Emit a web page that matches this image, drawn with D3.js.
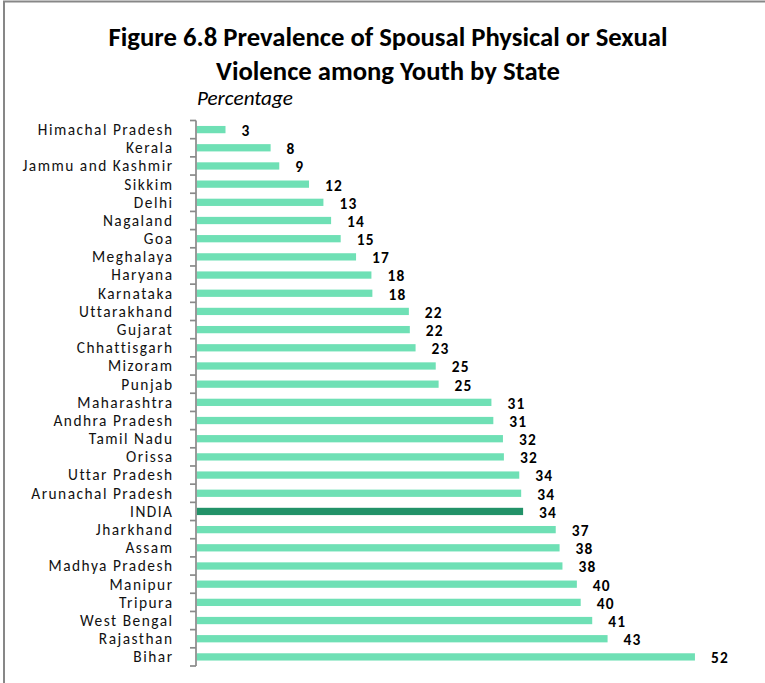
<!DOCTYPE html>
<html>
<head>
<meta charset="utf-8">
<script src="https://cdn.jsdelivr.net/npm/d3@7"></script>
<style>
  html, body { margin: 0; padding: 0; background: #fff; }
  svg { display: block; }
</style>
</head>
<body>
<svg id="chart" width="765" height="683"></svg>
<script>
// ---- data ----
const titleLines = ["Figure 6.8 Prevalence of Spousal Physical or Sexual", "Violence among Youth by State"];
const unitLabel = "Percentage";
const states = ["Himachal Pradesh","Kerala","Jammu and Kashmir","Sikkim","Delhi","Nagaland","Goa","Meghalaya","Haryana","Karnataka","Uttarakhand","Gujarat","Chhattisgarh","Mizoram","Punjab","Maharashtra","Andhra Pradesh","Tamil Nadu","Orissa","Uttar Pradesh","Arunachal Pradesh","INDIA","Jharkhand","Assam","Madhya Pradesh","Manipur","Tripura","West Bengal","Rajasthan","Bihar"];
const values = [3.0,7.7,8.6,11.7,13.2,14.0,15.0,16.6,18.2,18.3,22.1,22.2,22.8,24.9,25.2,30.7,30.9,31.9,32.0,33.6,33.8,34.0,37.4,37.8,38.1,39.6,40.0,41.2,42.8,51.9];
const labels = ["3","8","9","12","13","14","15","17","18","18","22","22","23","25","25","31","31","32","32","34","34","34","37","38","38","40","40","41","43","52"];
const highlight = "INDIA";

const data = states.map((s, i) => ({ state: s, value: values[i], label: labels[i] }));

const FONT = "Carlito, Calibri, Lato, 'Open Sans', sans-serif";
const svg = d3.select("#chart");

// frame
svg.append("rect")
  .attr("x", 4).attr("y", 1.5).attr("width", 800).attr("height", 720)
  .attr("fill", "none").attr("stroke", "#878787").attr("stroke-width", 2);

// helper to fit text to a target width by font size
function fit(sel, targetWidth) {
  const node = sel.node();
  const fs = parseFloat(sel.attr("font-size"));
  const w = node.getComputedTextLength();
  if (w > 0) sel.attr("font-size", (fs * targetWidth / w).toFixed(2));
}
// helper to fit a group's width by letter spacing, keeping font size
function spaceFit(sel, refNode, targetWidth) {
  const w = refNode.getComputedTextLength();
  const n = refNode.textContent.length;
  const ls = Math.max(0, (targetWidth - w) / n);
  sel.attr("letter-spacing", ls.toFixed(2));
}

// title
const tcx = 388;
const t1 = svg.append("text").attr("x", tcx).attr("y", 46).attr("text-anchor", "middle")
  .attr("font-family", FONT).attr("font-weight", "bold").attr("font-size", 24).attr("fill", "#000")
  .text(titleLines[0]);
fit(t1, 559);
svg.append("text").attr("x", tcx).attr("y", 80).attr("text-anchor", "middle")
  .attr("font-family", FONT).attr("font-weight", "bold").attr("font-size", t1.attr("font-size")).attr("fill", "#000")
  .text(titleLines[1]);

// unit label
const pl = svg.append("text").attr("x", 197).attr("y", 105)
  .attr("font-family", FONT).attr("font-style", "italic").attr("font-size", 17).attr("fill", "#000")
  .text(unitLabel);
fit(pl, 96);

// scales
const x0 = 196.7;
const x = d3.scaleLinear().domain([0, 60]).range([x0, x0 + 576]);
const y = d3.scaleBand().domain(states).range([120.5, 666]).paddingInner(0.6).paddingOuter(0.3);

// bars
svg.append("g").selectAll("rect").data(data).join("rect")
  .attr("x", x(0))
  .attr("y", d => y(d.state))
  .attr("width", d => x(d.value) - x(0))
  .attr("height", y.bandwidth())
  .attr("fill", d => d.state === highlight ? "#229268" : "#6fe0b5");

// axis line + ticks at band boundaries
const step = y.step();
const r0 = y.range()[0];
const ax = svg.append("g").attr("stroke", "#8a8a8a").attr("stroke-width", 1.7);
ax.append("line").attr("x1", 196).attr("x2", 196).attr("y1", r0).attr("y2", r0 + step * states.length);
ax.selectAll("line.tick").data(d3.range(states.length + 1)).join("line")
  .attr("class", "tick")
  .attr("x1", 190).attr("x2", 196)
  .attr("y1", i => r0 + i * step).attr("y2", i => r0 + i * step);

// category labels
const cl = svg.append("g").selectAll("text").data(data).join("text")
  .attr("x", 173.5)
  .attr("y", d => y(d.state) + y.bandwidth() / 2)
  .attr("dy", "0.35em")
  .attr("text-anchor", "end")
  .attr("font-family", FONT).attr("font-size", 15.4).attr("fill", "#111")
  .text(d => d.state);
spaceFit(cl, cl.filter(d => d.state === "Jammu and Kashmir").node(), 151);

// value labels
const vl = svg.append("g").selectAll("text").data(data).join("text")
  .attr("x", d => x(d.value) + 16)
  .attr("y", d => y(d.state) + y.bandwidth() / 2 + 1)
  .attr("dy", "0.35em")
  .attr("font-family", FONT).attr("font-weight", "bold").attr("font-size", 15.4).attr("fill", "#000")
  .text(d => d.label);
spaceFit(vl, vl.filter(d => d.state === "Bihar").node(), 18);
</script>
</body>
</html>
